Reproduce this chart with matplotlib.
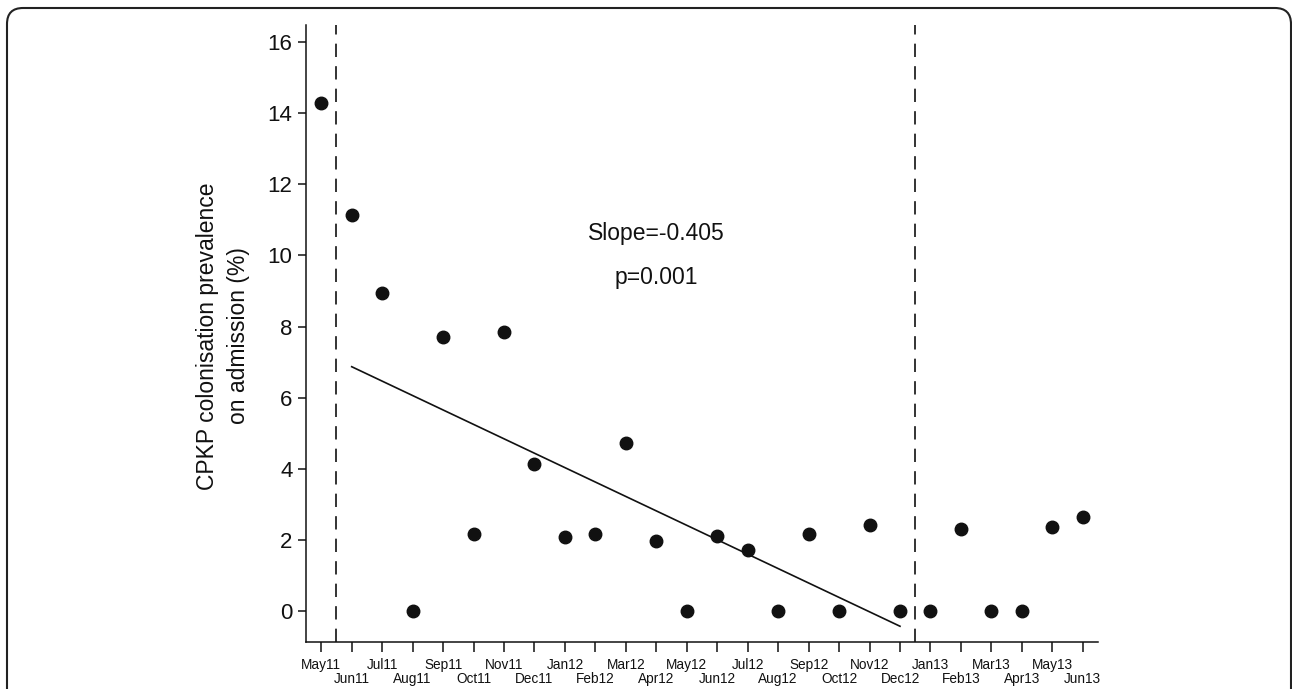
import numpy as np
import matplotlib
matplotlib.use("Agg")
import matplotlib.pyplot as plt
from matplotlib.patches import FancyBboxPatch
from matplotlib.transforms import IdentityTransform

plt.rcParams['font.family'] = ['Liberation Sans', 'DejaVu Sans']

months = ["May11", "Jun11", "Jul11", "Aug11", "Sep11", "Oct11", "Nov11", "Dec11",
          "Jan12", "Feb12", "Mar12", "Apr12", "May12", "Jun12", "Jul12", "Aug12",
          "Sep12", "Oct12", "Nov12", "Dec12", "Jan13", "Feb13", "Mar13", "Apr13",
          "May13", "Jun13"]
prevalence = [14.28, 11.12, 8.95, 0.0, 7.71, 2.16, 7.85, 4.15,
              2.09, 2.16, 4.74, 1.97, 0.0, 2.12, 1.72, 0.0,
              2.16, 0.0, 2.42, 0.0, 0.0, 2.31, 0.0, 0.0,
              2.36, 2.64]
yticks = [0, 2, 4, 6, 8, 10, 12, 14, 16]
phase_breaks = [0.5, 19.5]          # between May11/Jun11 and Dec12/Jan13
trend_start, trend_end = 1, 19      # Jun11 .. Dec12
slope = -0.405
p_value = "0.001"

x = np.arange(len(months))
y = np.array(prevalence)

W, H = 1292, 689
fig = plt.figure(figsize=(W / 100, H / 100), dpi=100)
ax = fig.add_axes([306 / W, 1 - 642 / H, (1098 - 306) / W, (642 - 25) / H])

ink = "#111111"

# frame
frame = FancyBboxPatch((7, -60), 1284, 681 + 60, boxstyle="round,pad=0,rounding_size=16",
                       transform=IdentityTransform(), fill=False, lw=1.5, ec="#222222",
                       figure=fig)
fig.patches.append(frame)

# points
ax.plot(x, y, 'o', color=ink, ms=9, mec=ink, zorder=3, clip_on=False)

# phase breaks
for b in phase_breaks:
    ax.axvline(b, color=ink, lw=1.2, linestyle=(0, (8, 5.5)))

# trend line over intervention period
xs = x[trend_start:trend_end + 1]
ys = y[trend_start:trend_end + 1]
intercept = ys.mean() - slope * xs.mean()
ax.plot([xs[0], xs[-1]], [intercept + slope * xs[0], intercept + slope * xs[-1]],
        color=ink, lw=1.2)

ax.text(11, 10.43, f"Slope={slope}", ha="center", va="baseline", fontsize=16.5, color=ink)
ax.text(11, 9.19, f"p={p_value}", ha="center", va="baseline", fontsize=16.5, color=ink)

ax.set_xlim(-0.5, len(months) - 0.5)
ax.set_ylim(-0.86, 16.47)

for s in ["top", "right"]:
    ax.spines[s].set_visible(False)
for s in ["left", "bottom"]:
    ax.spines[s].set_linewidth(1.1)
    ax.spines[s].set_color(ink)

ax.set_yticks(yticks)
ax.set_yticklabels([str(t) for t in yticks])
ax.tick_params(axis="y", direction="out", length=5.8, width=1.1, pad=4,
               labelsize=16, colors=ink)

ax.set_xticks(x[::2])
ax.set_xticklabels(months[::2])
ax.set_xticks(x[1::2], minor=True)
ax.set_xticklabels(months[1::2], minor=True)
ax.tick_params(axis="x", which="major", direction="out", length=7.2, width=1.1,
               pad=4, labelsize=9.8, colors=ink)
ax.tick_params(axis="x", which="minor", direction="out", length=7.2, width=1.1,
               pad=14.5, labelsize=9.8, colors=ink)

fig.text(223 / W, 1 - 336 / H, "CPKP colonisation prevalence\non admission (%)",
         rotation=90, ha="center", va="center", multialignment="center",
         fontsize=16.5, linespacing=1.48, color=ink)

fig.savefig("out.png", dpi=100, facecolor="white")
